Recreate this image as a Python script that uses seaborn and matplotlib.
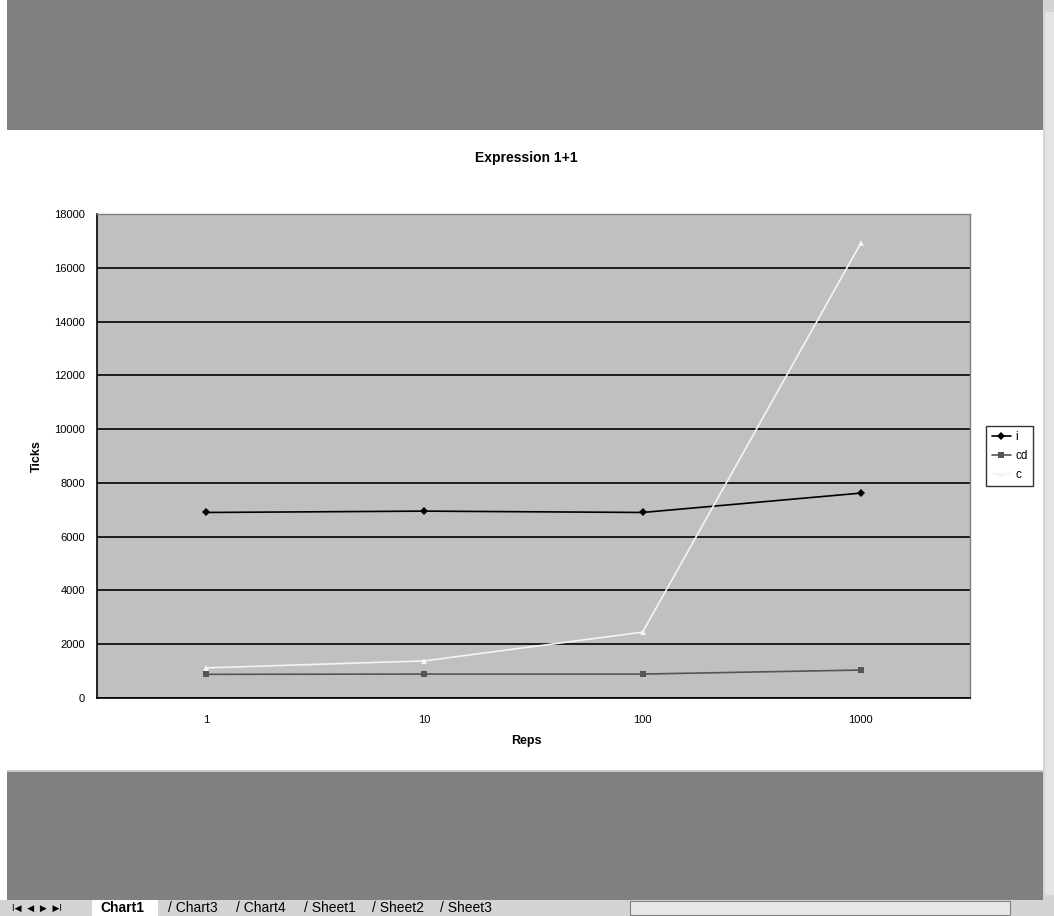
import pandas as pd
import matplotlib.pyplot as plt
from matplotlib.patches import Rectangle
import seaborn as sns

# Data
reps = ['1', '10', '100', '1000']
ticks_i = [6900, 6950, 6900, 7620]
ticks_cd = [880, 890, 890, 1040]
ticks_c = [1120, 1380, 2450, 16920]

series_names = ['i', 'cd', 'c']
series_colors = ['#000000', '#555555', '#f4f4f4']
series_markers = ['D', 's', '^']

df = pd.DataFrame({
    'Reps': reps * 3,
    'Ticks': ticks_i + ticks_cd + ticks_c,
    'series': ['i'] * 4 + ['cd'] * 4 + ['c'] * 4,
})

sns.set_style('white')
plt.rcParams['font.family'] = ['Liberation Sans', 'DejaVu Sans']
plt.rcParams['text.color'] = 'black'
plt.rcParams['axes.labelcolor'] = 'black'
plt.rcParams['xtick.color'] = 'black'
plt.rcParams['ytick.color'] = 'black'

W, H = 1054, 916
fig = plt.figure(figsize=(W / 100, H / 100), dpi=100)
fig.patch.set_facecolor('white')

# Excel window: dark gray bands, scrollbar and sheet tabs
def px_rect(x0, y0, x1, y1, color, **kw):
    fig.patches.append(Rectangle((x0 / W, 1 - y1 / H), (x1 - x0) / W, (y1 - y0) / H,
                                 transform=fig.transFigure, facecolor=color,
                                 edgecolor=kw.pop('ec', 'none'), lw=kw.pop('lw', 0),
                                 zorder=kw.pop('zorder', 0), **kw))

px_rect(7, 0, 1043, 130, '#808080')
px_rect(7, 771, 1043, 900, '#808080')
px_rect(7, 770, 1043, 772, '#c8c8c8')
px_rect(1043, 0, 1054, 916, '#d4d4d4')
px_rect(1045, 12, 1054, 895, '#e4e4e4')
px_rect(0, 900, 1054, 916, '#d4d4d4')
px_rect(92, 900, 158, 916, '#ffffff')
px_rect(630, 901, 1010, 915, '#e8e8e8', ec='#808080', lw=0.8)

fig.text(12 / W, 1 - 908 / H, 'I◀  ◀  ▶  ▶I', fontsize=6.5, va='center',
         family=['DejaVu Sans'])
fig.text(100 / W, 1 - 908 / H, 'Chart1', fontsize=10, fontweight='bold', va='center')
for k, name in enumerate(['Chart3', 'Chart4', 'Sheet1', 'Sheet2', 'Sheet3']):
    fig.text((168 + k * 68) / W, 1 - 908 / H, '/ ' + name, fontsize=10, va='center')

# Plot area
ax = fig.add_axes([97 / W, 1 - 698 / H, (970 - 97) / W, (698 - 214) / H])
ax.set_facecolor('#c0c0c0')

sns.lineplot(data=df, x='Reps', y='Ticks', hue='series', style='series',
             hue_order=series_names, style_order=series_names,
             palette=series_colors, markers=series_markers, dashes=False,
             markersize=4.5, markeredgewidth=0, linewidth=1.2, ax=ax)

ax.set_xlim(-0.5, 3.5)
ax.set_ylim(0, 18000)
ax.set_yticks(range(0, 18001, 2000))
ax.yaxis.grid(True, color='black', linewidth=1.2)
ax.set_axisbelow(True)

ax.set_xticks(range(4))
ax.set_xticklabels(reps)
ax.set_xticks([-0.5, 0.5, 1.5, 2.5, 3.5], minor=True)
ax.tick_params(axis='x', which='major', length=0, pad=12, labelsize=8)
ax.tick_params(axis='x', which='minor', length=5, width=1, color='black', direction='out')
ax.tick_params(axis='y', length=5, width=1, color='black', direction='out', labelsize=8)

for side in ['top', 'right']:
    ax.spines[side].set_color('#808080')
    ax.spines[side].set_linewidth(1)
for side in ['left', 'bottom']:
    ax.spines[side].set_color('black')
    ax.spines[side].set_linewidth(1.2)

ax.set_xlabel('Reps', fontsize=9, fontweight='bold')
ax.xaxis.set_label_coords((526 - 97) / (970 - 97), -0.076)
ax.set_ylabel('Ticks', fontsize=9, fontweight='bold', labelpad=8)
fig.text(526 / W, 1 - 158 / H, 'Expression 1+1', fontsize=10, fontweight='bold',
         ha='center', va='center')

leg = ax.legend(title=None, loc='center left', bbox_to_anchor=(1.012, 0.5),
                frameon=True, fancybox=False, fontsize=8.5, handlelength=1.6,
                handletextpad=0.4, borderpad=0.45, labelspacing=0.6)
leg.get_frame().set_edgecolor('black')
leg.get_frame().set_linewidth(1)

fig.savefig('out.png', dpi=100)
